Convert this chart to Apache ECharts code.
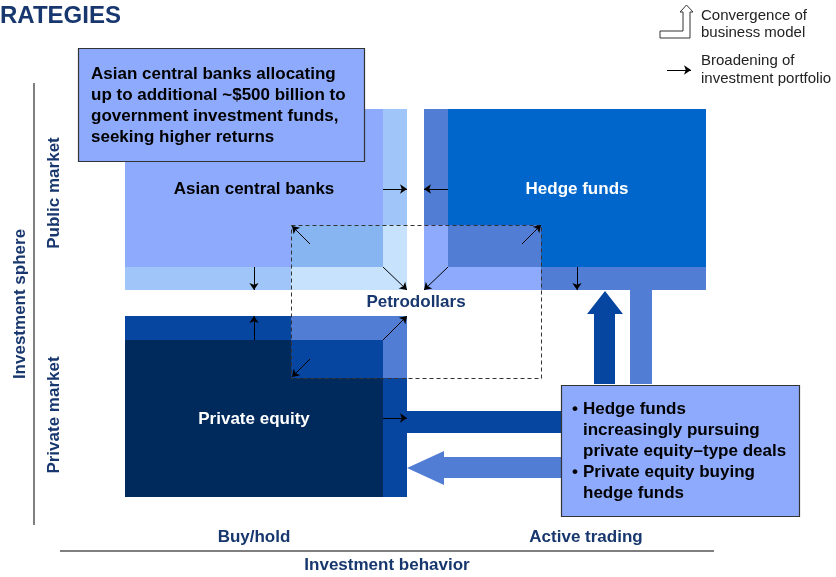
<!DOCTYPE html>
<html>
<head>
<meta charset="utf-8">
<script src="https://cdn.jsdelivr.net/npm/echarts@6/dist/echarts.min.js"></script>
<style>
  html, body { margin: 0; padding: 0; background: #fff; }
  #chart { width: 836px; height: 577px; }
</style>
</head>
<body>
<div id="chart"></div>
<script>
// diagram is laid out on a 836 x 577 value grid (y grows downwards)
var tones = {
  aMain: '#8eaafc', aStrip: '#a0c5f8', aLight: '#c6e2fd', aOverlap: '#87b5f1',
  hMain: '#0066cc', hStrip: '#527dd4', hLight: '#8eaafc',
  pMain: '#002a5c', pStrip: '#0645a0', pLight: '#527dd4'
}

// x0, y0, x1, y1, tone
var blocks = [
  [125, 109, 407, 290, 'aStrip'], [291, 225, 407, 290, 'aLight'],
  [125, 109, 383, 267, 'aMain'], [291, 225, 383, 267, 'aOverlap'],
  [424, 109, 706, 290, 'hStrip'], [424, 225, 541, 290, 'hLight'],
  [448, 109, 706, 267, 'hMain'], [448, 225, 541, 267, 'hStrip'],
  [125, 316, 407, 497, 'pStrip'], [291, 316, 407, 378, 'pLight'],
  [125, 340, 383, 497, 'pMain'], [291, 340, 383, 378, 'pStrip']
]

// thick flows between private equity and hedge funds
var flows = [
  ['pStrip', [[407, 411], [561, 411], [561, 433], [407, 433]]],
  ['hStrip', [[561, 457], [444, 457], [444, 451], [407, 468], [444, 485], [444, 478], [561, 478]]],
  ['pStrip', [[594, 384], [594, 314], [587, 314], [605, 291], [623, 314], [615, 314], [615, 384]]],
  ['hStrip', [[630, 290], [652, 290], [652, 384], [630, 384]]]
]

var callouts = [[78, 48, 364, 161], [561, 385, 799, 516]]
var petroBox = [291, 225, 541, 378]

// thin "broadening" arrows: from -> to
var arrows = [
  [[383, 189], [407, 189]], [[448, 189], [424, 189]],
  [[310, 244], [292, 226]], [[383, 267], [407, 290]], [[254, 267], [254, 290]],
  [[522, 244], [541, 225]], [[448, 267], [424, 290]], [[577, 267], [577, 290]],
  [[254, 340], [254, 316]], [[383, 340], [407, 316]], [[310, 359], [292, 377]],
  [[383, 418], [407, 418]], [[667, 70], [691, 70]]
]

var axisLines = [[[34, 83], [34, 525]], [[60, 551], [714, 551]]]

var legendIcon = [[660, 31], [683, 31], [683, 12], [680, 12], [686.5, 5], [693, 12], [690, 12], [690, 38], [660, 38]]

// text, x, y, style
var labels = [
  ['RATEGIES', 0, 16, 'title'],
  ['Convergence of', 701, 16, 'legend'], ['business model', 701, 33, 'legend'],
  ['Broadening of', 701, 61, 'legend'], ['investment portfolio', 701, 79, 'legend'],
  ['Asian central banks allocating', 91, 74, 'callout'],
  ['up to additional ~$500 billion to', 91, 95, 'callout'],
  ['government investment funds,', 91, 116, 'callout'],
  ['seeking higher returns', 91, 137, 'callout'],
  ['Asian central banks', 254, 189, 'block'],
  ['Hedge funds', 577, 189, 'blockWhite'],
  ['Petrodollars', 416, 302, 'navy'],
  ['Private equity', 254, 419, 'blockWhite'],
  ['\u2022', 572, 409, 'bullet'], ['Hedge funds', 583, 409, 'bullet'],
  ['increasingly pursuing', 583, 430, 'bullet'],
  ['private equity\u2013type deals', 583, 451, 'bullet'],
  ['\u2022', 572, 472, 'bullet'], ['Private equity buying', 583, 472, 'bullet'],
  ['hedge funds', 583, 493, 'bullet'],
  ['Investment sphere', 20, 304, 'navyRot'],
  ['Public market', 54, 193, 'navyRot'],
  ['Private market', 54, 415, 'navyRot'],
  ['Buy/hold', 254, 537, 'navy'],
  ['Active trading', 586, 537, 'navy'],
  ['Investment behavior', 387, 565, 'navy']
]

var FONT = '"Liberation Sans", Arial, sans-serif'
var navy = '#17376e'
var textStyles = {
  title: { font: 'bold 24px ' + FONT, fill: navy, align: 'left' },
  legend: { font: '15px ' + FONT, fill: '#222', align: 'left' },
  callout: { font: 'bold 17px ' + FONT, fill: '#000', align: 'left' },
  block: { font: 'bold 17px ' + FONT, fill: '#000', align: 'center' },
  blockWhite: { font: 'bold 17px ' + FONT, fill: '#fff', align: 'center' },
  navy: { font: 'bold 17px ' + FONT, fill: navy, align: 'center' },
  navyRot: { font: 'bold 17px ' + FONT, fill: navy, align: 'center', rot: true },
  bullet: { font: 'bold 17px ' + FONT, fill: '#000', align: 'left' }
}

function polyPoints(api, pts) {
  return pts.map(function (p) { return api.coord(p) })
}

var chart = echarts.init(document.getElementById('chart'))
chart.setOption({
  animation: false,
  grid: { left: 0, right: 0, top: 0, bottom: 0 },
  xAxis: { type: 'value', min: 0, max: 836, show: false },
  yAxis: { type: 'value', min: 0, max: 577, inverse: true, show: false },
  series: [
    {
      type: 'custom',
      z: 1,
      silent: true,
      data: blocks.map(function (b) { return b.slice(0, 4) }),
      renderItem: function (params, api) {
        var p0 = api.coord([api.value(0), api.value(1)])
        var p1 = api.coord([api.value(2), api.value(3)])
        return {
          type: 'rect',
          shape: { x: p0[0], y: p0[1], width: p1[0] - p0[0], height: p1[1] - p0[1] },
          style: { fill: tones[blocks[params.dataIndex][4]] }
        }
      }
    },
    {
      type: 'custom',
      z: 2,
      silent: true,
      data: flows.map(function (f, i) { return [i] }),
      renderItem: function (params, api) {
        var f = flows[params.dataIndex]
        return {
          type: 'polygon',
          shape: { points: polyPoints(api, f[1]) },
          style: { fill: tones[f[0]] }
        }
      }
    },
    {
      type: 'custom',
      z: 3,
      silent: true,
      data: callouts,
      renderItem: function (params, api) {
        var p0 = api.coord([api.value(0), api.value(1)])
        var p1 = api.coord([api.value(2), api.value(3)])
        return {
          type: 'rect',
          shape: { x: p0[0] + 0.5, y: p0[1] + 0.5, width: p1[0] - p0[0], height: p1[1] - p0[1] },
          style: { fill: '#8eaafc', stroke: '#333', lineWidth: 1.2 }
        }
      }
    },
    {
      type: 'custom',
      z: 4,
      silent: true,
      data: [petroBox],
      renderItem: function (params, api) {
        var p0 = api.coord([api.value(0), api.value(1)])
        var p1 = api.coord([api.value(2), api.value(3)])
        return {
          type: 'rect',
          shape: { x: p0[0] + 0.5, y: p0[1] + 0.5, width: p1[0] - p0[0], height: p1[1] - p0[1] },
          style: { fill: 'none', stroke: '#333', lineWidth: 1, lineDash: [4, 3] }
        }
      }
    },
    {
      type: 'custom',
      z: 4,
      silent: true,
      data: [[0]],
      renderItem: function (params, api) {
        return {
          type: 'polygon',
          shape: { points: polyPoints(api, legendIcon) },
          style: { fill: '#fff', stroke: '#333', lineWidth: 1 }
        }
      }
    },
    {
      type: 'lines',
      coordinateSystem: 'cartesian2d',
      z: 5,
      silent: true,
      symbol: ['none', 'arrow'],
      symbolSize: 7,
      lineStyle: { color: '#000', width: 1, opacity: 1 },
      data: arrows.map(function (a) { return { coords: a } })
    },
    {
      type: 'lines',
      coordinateSystem: 'cartesian2d',
      z: 5,
      silent: true,
      symbol: 'none',
      lineStyle: { color: '#7f7f7f', width: 2, opacity: 1 },
      data: axisLines.map(function (a) { return { coords: a } })
    },
    {
      type: 'custom',
      z: 6,
      silent: true,
      data: labels.map(function (l) { return [l[1], l[2]] }),
      renderItem: function (params, api) {
        var l = labels[params.dataIndex]
        var s = textStyles[l[3]]
        var p = api.coord([api.value(0), api.value(1)])
        return {
          type: 'text',
          x: p[0],
          y: p[1],
          rotation: s.rot ? Math.PI / 2 : 0,
          style: {
            text: l[0],
            font: s.font,
            fill: s.fill,
            align: s.align,
            verticalAlign: 'middle'
          }
        }
      }
    }
  ]
})
</script>
</body>
</html>
